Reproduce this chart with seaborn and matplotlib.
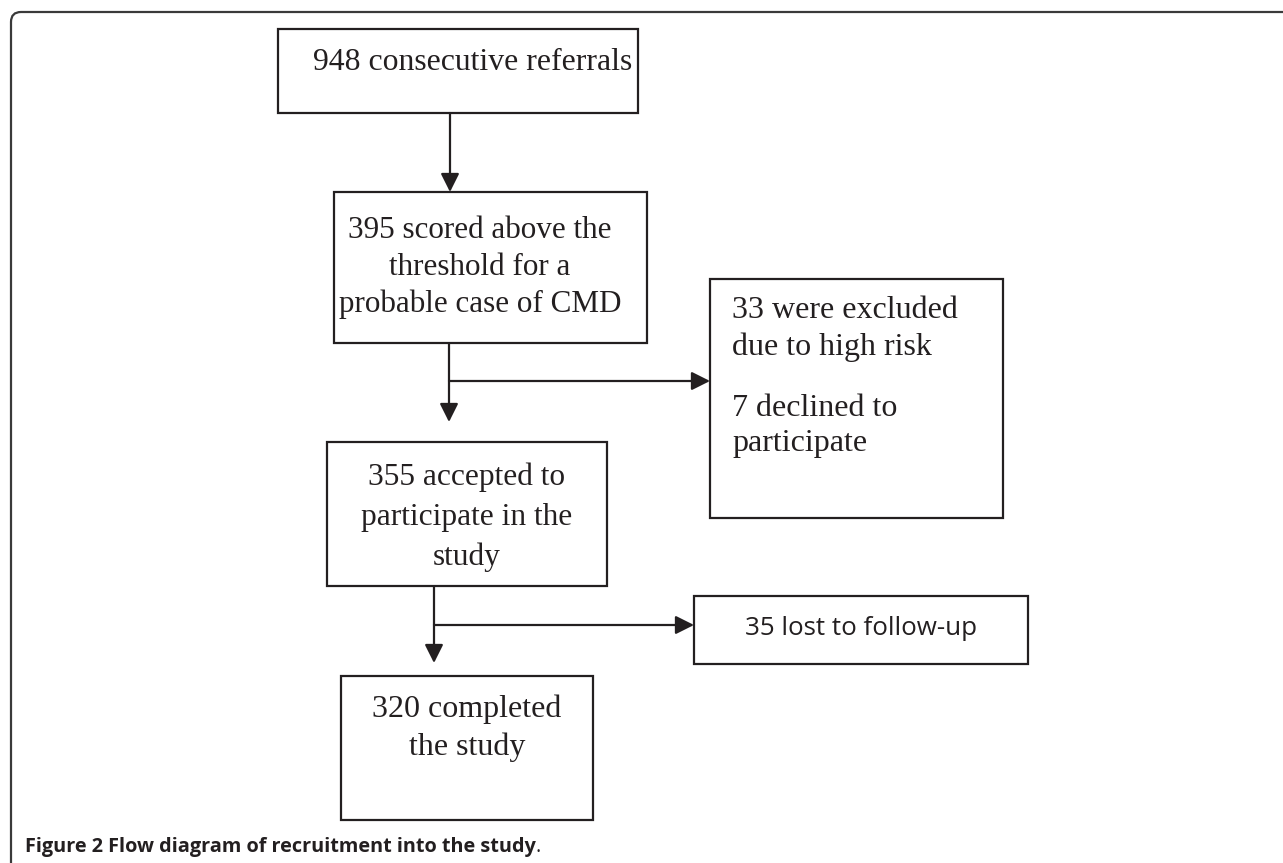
import matplotlib
matplotlib.use("Agg")
import matplotlib.pyplot as plt
import seaborn as sns
from matplotlib.patches import Rectangle, FancyArrowPatch, PathPatch
from matplotlib.path import Path

sns.set_theme(style="white")
plt.rcParams['font.family'] = ['Liberation Serif', 'DejaVu Serif']

# ---- data: flow stages ----
stage_labels = [
    "948 consecutive referrals",
    "395 scored above the\nthreshold for a\nprobable case of CMD",
    "355 accepted to\nparticipate in the\nstudy",
    "320 completed\nthe study",
]
exclusion_labels = [
    "33 were excluded\ndue to high risk",
    "7 declined to\nparticipate",
]
lost_label = "35 lost to follow-up"
caption_bold = "Figure 2 Flow diagram of recruitment into the study"

W, H = 1283, 863
fig = plt.figure(figsize=(W / 100, H / 100), dpi=100)
ax = fig.add_axes([0, 0, 1, 1])
ax.set_xlim(0, W)
ax.set_ylim(H, 0)
ax.axis("off")

LC = "#231f20"
LW = 1.6


def box(x0, y0, x1, y1):
    ax.add_patch(Rectangle((x0, y0), x1 - x0, y1 - y0, fill=False,
                           edgecolor=LC, linewidth=LW))


def arrow(x0, y0, x1, y1):
    ax.add_patch(FancyArrowPatch((x0, y0), (x1, y1), arrowstyle="-|>",
                                 mutation_scale=28, color=LC, linewidth=LW,
                                 shrinkA=0, shrinkB=0))


def line(x0, y0, x1, y1):
    ax.plot([x0, x1], [y0, y1], color=LC, linewidth=LW, solid_capstyle="butt")


def lines(label, x, y0, step, fs, ha="center", **kw):
    for i, s in enumerate(label.split("\n")):
        ax.text(x, y0 + i * step, s, ha=ha, va="baseline", fontsize=fs,
                color=LC, **kw)


# outer frame (top and left, rounded corner)
r = 10
verts = [(W + 5, 12), (11 + r, 12), (11, 12), (11, 12 + r), (11, H + 5)]
codes = [Path.MOVETO, Path.LINETO, Path.CURVE3, Path.CURVE3, Path.LINETO]
ax.add_patch(PathPatch(Path(verts, codes), fill=False, edgecolor="#3a3a3a",
                       linewidth=1.6))

# stage 1
box(278, 29, 638, 113)
lines(stage_labels[0], 313, 70, 0, 22.9, ha="left")
arrow(450, 113, 450, 192)

# stage 2
box(334, 192, 647, 343)
lines(stage_labels[1], 480, 238, 37, 22.4)
line(449, 343, 449, 381)
arrow(449, 381, 449, 422)
arrow(449, 381, 710, 381)

# exclusions
box(710, 279, 1003, 518)
lines(exclusion_labels[0], 732, 318, 37, 23, ha="left")
lines(exclusion_labels[1], 732, 416, 35, 23, ha="left")

# stage 3
box(327, 442, 607, 586)
lines(stage_labels[2], 467, 485, 40, 22.6)
line(434, 586, 434, 625)
arrow(434, 625, 434, 663)
arrow(434, 625, 694, 625)

# lost to follow-up
box(694, 596, 1028, 664)
ax.text(861, 635, lost_label, ha="center", va="baseline", fontsize=18.7,
        color=LC, family=["Open Sans", "DejaVu Sans"])

# stage 4
box(341, 676, 593, 820)
lines(stage_labels[3], 467, 717, 38, 23)

# caption
t = ax.text(25, 852, caption_bold, ha="left", va="baseline", fontsize=14.3,
            fontweight="bold", color=LC, family=["Open Sans", "DejaVu Sans"])
fig.canvas.draw()
bb = t.get_window_extent()
xend = ax.transData.inverted().transform((bb.x1, bb.y0))[0]
ax.text(xend, 852, ".", ha="left", va="baseline", fontsize=14.3,
        color=LC, family=["Open Sans", "DejaVu Sans"])

fig.savefig("out.png", dpi=100)
